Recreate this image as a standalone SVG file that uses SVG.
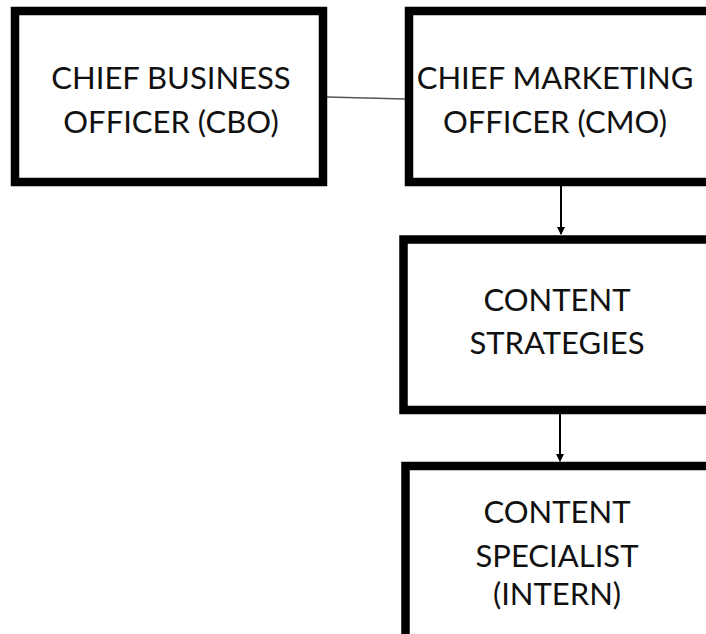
<svg xmlns="http://www.w3.org/2000/svg" width="706" height="634" viewBox="0 0 706 634">
<style>
.box{fill:#fff;stroke:#000;stroke-width:8.5}
.t{font-family:Lato,"Open Sans","Liberation Sans",sans-serif;font-size:31px;fill:#111;text-anchor:middle}
.c{stroke:#000;stroke-width:2;fill:none}
</style>
<defs>
<marker id="ah" markerWidth="8" markerHeight="8" refX="7" refY="4" orient="auto" markerUnits="userSpaceOnUse">
<path d="M0,0 L8,4 L0,8 z" fill="#000"/>
</marker>
</defs>
<rect width="706" height="634" fill="#fff"/>
<g id="connectors">
<line x1="327" y1="97" x2="405" y2="99" stroke="#555" stroke-width="1.5"/>
<line class="c" x1="561" y1="186" x2="561" y2="234" marker-end="url(#ah)"/>
<line class="c" x1="560" y1="414" x2="560" y2="461" marker-end="url(#ah)"/>
</g>
<g id="cbo">
<rect class="box" x="15" y="11" width="308" height="171"/>
<text class="t" x="171" y="89">CHIEF BUSINESS</text>
<text class="t" x="171" y="133">OFFICER (CBO)</text>
</g>
<g id="cmo">
<rect class="box" x="409" y="11" width="320" height="171"/>
<text class="t" x="555" y="89">CHIEF MARKETING</text>
<text class="t" x="555" y="133">OFFICER (CMO)</text>
</g>
<g id="strategies">
<rect class="box" x="403.5" y="239.5" width="320" height="170.5"/>
<text class="t" x="557" y="311">CONTENT</text>
<text class="t" x="557" y="354">STRATEGIES</text>
</g>
<g id="specialist">
<rect class="box" x="405.5" y="466" width="320" height="200"/>
<text class="t" x="557" y="523">CONTENT</text>
<text class="t" x="557" y="567">SPECIALIST</text>
<text class="t" x="557" y="605">(INTERN)</text>
</g>
</svg>
